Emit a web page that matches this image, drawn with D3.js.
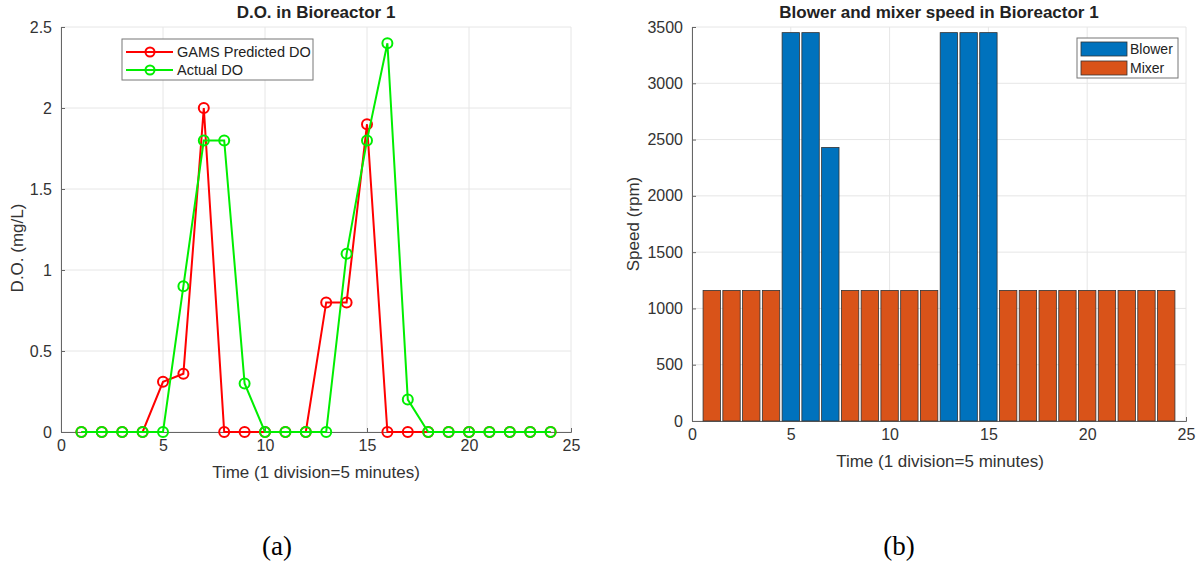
<!DOCTYPE html>
<html>
<head>
<meta charset="utf-8">
<script src="https://cdn.jsdelivr.net/npm/d3@7"></script>
<style>
  body { margin: 0; background: #fff; }
  svg { font-family: "Liberation Sans", Arial, sans-serif; }
</style>
</head>
<body>
<div id="chart"></div>
<script>
// time steps (1 division = 5 minutes)
var steps = d3.range(1, 25);

// dissolved oxygen, mg/L
var predictedDO = [0, 0, 0, 0, 0.31, 0.36, 2.0, 0, 0, 0, 0, 0, 0.8, 0.8, 1.9, 0, 0, 0, 0, 0, 0, 0, 0, 0];
var actualDO    = [0, 0, 0, 0, 0, 0.9, 1.8, 1.8, 0.3, 0, 0, 0, 0, 1.1, 1.8, 2.4, 0.2, 0, 0, 0, 0, 0, 0, 0];

// speeds, rpm (0 where the device is off)
var blowerSpeed = [0, 0, 0, 0, 3450, 3450, 2430, 0, 0, 0, 0, 0, 3450, 3450, 3450, 0, 0, 0, 0, 0, 0, 0, 0, 0];
var mixerSpeed  = [1160, 1160, 1160, 1160, 0, 0, 0, 1160, 1160, 1160, 1160, 1160, 0, 0, 0, 1160, 1160, 1160, 1160, 1160, 1160, 1160, 1160, 1160];

var xTicks = [0, 5, 10, 15, 20, 25];
var doTicks = [0, 0.5, 1, 1.5, 2, 2.5];
var speedTicks = [0, 500, 1000, 1500, 2000, 2500, 3000, 3500];

var svg = d3.select("#chart").append("svg")
    .attr("width", 1202)
    .attr("height", 563);

var axisColor = "#666";
var gridColor = "#e6e6e6";
var textColor = "#333";

function frame(g, x, y, yTicks, yFmt) {
    var x0 = x.range()[0], x1 = x.range()[1];
    var y0 = y.range()[0], y1 = y.range()[1];

    // grid
    g.selectAll(".gx").data(xTicks).enter().append("line")
        .attr("x1", function(d){ return x(d); })
        .attr("x2", function(d){ return x(d); })
        .attr("y1", y0).attr("y2", y1)
        .attr("stroke", gridColor).attr("stroke-width", 1);
    g.selectAll(".gy").data(yTicks).enter().append("line")
        .attr("x1", x0).attr("x2", x1)
        .attr("y1", function(d){ return y(d); })
        .attr("y2", function(d){ return y(d); })
        .attr("stroke", gridColor).attr("stroke-width", 1);

    var ax = g.append("g").attr("transform", "translate(0," + y0 + ")")
        .call(d3.axisBottom(x).tickValues(xTicks).tickSize(-4).tickPadding(8).tickFormat(d3.format("d")));
    var ay = g.append("g").attr("transform", "translate(" + x0 + ",0)")
        .call(d3.axisLeft(y).tickValues(yTicks).tickSize(-4).tickPadding(9).tickFormat(yFmt));

    [ax, ay].forEach(function(a){
        a.select(".domain").attr("stroke", axisColor);
        a.selectAll(".tick line").attr("stroke", axisColor);
        a.selectAll(".tick text").attr("fill", textColor)
            .style("font-size", "16px").style("font-family", "Liberation Sans, Arial, sans-serif");
    });
}

// ---------- (a) D.O. lines ----------
var xA = d3.scaleLinear().domain([0, 25]).range([61, 571]);
var yA = d3.scaleLinear().domain([0, 2.5]).range([432, 27]);
var gA = svg.append("g");

frame(gA, xA, yA, doTicks, function(d){ return d3.format("")(d); });

var lineA = d3.line()
    .x(function(d, i){ return xA(steps[i]); })
    .y(function(d){ return yA(d); });

var seriesA = [
    { name: "GAMS Predicted DO", values: predictedDO, color: "#ff0000" },
    { name: "Actual DO", values: actualDO, color: "#00ee00" }
];

seriesA.forEach(function(s){
    gA.append("path").datum(s.values)
        .attr("d", lineA)
        .attr("fill", "none")
        .attr("stroke", s.color)
        .attr("stroke-width", 2);
    gA.selectAll(null).data(s.values).enter().append("circle")
        .attr("cx", function(d, i){ return xA(steps[i]); })
        .attr("cy", function(d){ return yA(d); })
        .attr("r", 5)
        .attr("fill", "none")
        .attr("stroke", s.color)
        .attr("stroke-width", 2);
});

gA.append("text").attr("x", 316).attr("y", 18)
    .attr("text-anchor", "middle").style("font-size", "17px").style("font-weight", "bold")
    .attr("fill", "#222").text("D.O. in Bioreactor 1");
gA.append("text").attr("x", 316).attr("y", 478)
    .attr("text-anchor", "middle").style("font-size", "17px")
    .attr("fill", textColor).text("Time (1 division=5 minutes)");
gA.append("text").attr("transform", "translate(23,248) rotate(-90)")
    .attr("text-anchor", "middle").style("font-size", "17px")
    .attr("fill", textColor).text("D.O. (mg/L)");

// legend (a)
var legA = gA.append("g").attr("transform", "translate(122,39)");
legA.append("rect").attr("width", 191).attr("height", 41)
    .attr("fill", "#fff").attr("stroke", "#777").attr("stroke-width", 1);
seriesA.forEach(function(s, i){
    var yy = 13 + i * 18;
    legA.append("line").attr("x1", 4).attr("x2", 51).attr("y1", yy).attr("y2", yy)
        .attr("stroke", s.color).attr("stroke-width", 2);
    legA.append("circle").attr("cx", 28).attr("cy", yy).attr("r", 4.5)
        .attr("fill", "none").attr("stroke", s.color).attr("stroke-width", 2);
    legA.append("text").attr("x", 55).attr("y", yy + 5)
        .style("font-size", "14.5px").attr("fill", "#222").text(s.name);
});

// ---------- (b) blower / mixer bars ----------
var xB = d3.scaleLinear().domain([0, 25]).range([692, 1186]);
var yB = d3.scaleLinear().domain([0, 3500]).range([421, 27]);
var gB = svg.append("g");

frame(gB, xB, yB, speedTicks, d3.format("d"));

var barW = (xB(1) - xB(0)) * 0.88;
var seriesB = [
    { name: "Blower", values: blowerSpeed, color: "#0072bd" },
    { name: "Mixer", values: mixerSpeed, color: "#d95319" }
];

seriesB.forEach(function(s){
    var bars = s.values
        .map(function(v, i){ return { t: steps[i], v: v }; })
        .filter(function(d){ return d.v > 0; });
    gB.selectAll(null).data(bars).enter().append("rect")
        .attr("x", function(d){ return xB(d.t) - barW / 2; })
        .attr("y", function(d){ return yB(d.v); })
        .attr("width", barW)
        .attr("height", function(d){ return yB(0) - yB(d.v); })
        .attr("fill", s.color)
        .attr("stroke", "#333")
        .attr("stroke-width", 0.8);
});

gB.append("text").attr("x", 939).attr("y", 18)
    .attr("text-anchor", "middle").style("font-size", "17px").style("font-weight", "bold")
    .attr("fill", "#222").text("Blower and mixer speed in Bioreactor 1");
gB.append("text").attr("x", 940).attr("y", 467)
    .attr("text-anchor", "middle").style("font-size", "17px")
    .attr("fill", textColor).text("Time (1 division=5 minutes)");
gB.append("text").attr("transform", "translate(639,224) rotate(-90)")
    .attr("text-anchor", "middle").style("font-size", "17px")
    .attr("fill", textColor).text("Speed (rpm)");

// legend (b)
var legB = gB.append("g").attr("transform", "translate(1077,38)");
legB.append("rect").attr("width", 101).attr("height", 40)
    .attr("fill", "#fff").attr("stroke", "#777").attr("stroke-width", 1);
seriesB.forEach(function(s, i){
    legB.append("rect").attr("x", 4).attr("y", 4 + i * 19).attr("width", 46).attr("height", 14)
        .attr("fill", s.color).attr("stroke", "#333").attr("stroke-width", 0.8);
    legB.append("text").attr("x", 53).attr("y", 16 + i * 19)
        .style("font-size", "14px").attr("fill", "#222").text(s.name);
});

// captions
svg.append("text").attr("x", 277).attr("y", 555).attr("text-anchor", "middle")
    .style("font-family", "Liberation Serif, Times New Roman, serif").style("font-size", "27px")
    .attr("fill", "#000").text("(a)");
svg.append("text").attr("x", 899).attr("y", 555).attr("text-anchor", "middle")
    .style("font-family", "Liberation Serif, Times New Roman, serif").style("font-size", "27px")
    .attr("fill", "#000").text("(b)");
</script>
</body>
</html>
